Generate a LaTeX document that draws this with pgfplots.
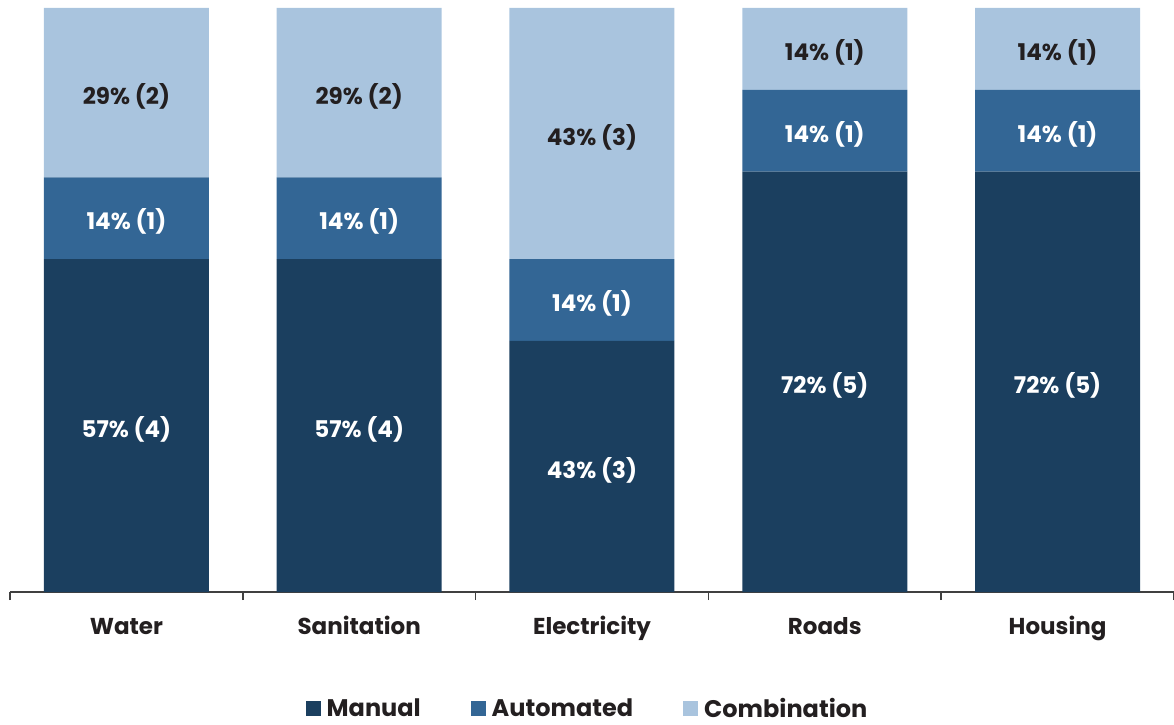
\documentclass[border=0pt]{standalone}
\usepackage{pgfplots}
\pgfplotsset{compat=1.18}
\usepackage{fontspec}
\setmainfont{Poppins}
\definecolor{cManual}{RGB}{27,63,95}
\definecolor{cAuto}{RGB}{51,102,149}
\definecolor{cComb}{RGB}{169,196,222}
\definecolor{cText}{RGB}{35,31,32}
\tikzset{lab/.style={font=\bfseries\fontsize{11.5}{13}\selectfont, anchor=center, yshift=-1.8pt}}
\begin{document}
\begin{tikzpicture}
\useasboundingbox (-5pt,-66pt) rectangle (582pt,296pt);
\begin{axis}[
  at={(0,0)}, anchor=south west,
  scale only axis,
  width=582pt, height=292pt,
  ybar stacked,
  bar width=82.5pt,
  xmin=-0.5, xmax=4.5, ymin=0, ymax=100,
  enlargelimits=false,
  axis y line=none,
  axis x line*=bottom,
  x axis line style={draw=black!75, line width=0.75pt, -},
  xtick={0,1,2,3,4},
  xticklabels={Water,Sanitation,Electricity,Roads,Housing},
  major x tick style={draw=none},
  minor xtick={-0.5,0.5,1.5,2.5,3.5,4.5},
  minor x tick style={draw=black!75, line width=0.75pt},
  minor tick length=4pt,
  tick align=outside,
  xticklabel style={font=\bfseries\fontsize{11.5}{13}\selectfont, text=cText,
    text height=9pt, text depth=3pt, yshift=-4.5pt},
  legend style={at={(0.497,-0.2003)}, anchor=center, draw=none, legend columns=-1,
    font=\bfseries\fontsize{12}{14}\selectfont, text=cText,
    /tikz/every even column/.append style={column sep=23pt},
    /tikz/every odd column/.append style={column sep=1pt}},
  legend image code/.code={\fill[#1] (0pt,-3.75pt) rectangle (7.5pt,3.75pt);},
  clip=false,
  after end axis/.code={
    \node[lab, text=white] at (axis cs:0,28.5) {57\% (4)};
    \node[lab, text=white] at (axis cs:1,28.5) {57\% (4)};
    \node[lab, text=white] at (axis cs:2,21.5) {43\% (3)};
    \node[lab, text=white] at (axis cs:3,36) {72\% (5)};
    \node[lab, text=white] at (axis cs:4,36) {72\% (5)};
    \node[lab, text=white] at (axis cs:0,64) {14\% (1)};
    \node[lab, text=white] at (axis cs:1,64) {14\% (1)};
    \node[lab, text=white] at (axis cs:2,50) {14\% (1)};
    \node[lab, text=white] at (axis cs:3,79) {14\% (1)};
    \node[lab, text=white] at (axis cs:4,79) {14\% (1)};
    \node[lab, text=cText] at (axis cs:0,85.5) {29\% (2)};
    \node[lab, text=cText] at (axis cs:1,85.5) {29\% (2)};
    \node[lab, text=cText] at (axis cs:2,78.5) {43\% (3)};
    \node[lab, text=cText] at (axis cs:3,93) {14\% (1)};
    \node[lab, text=cText] at (axis cs:4,93) {14\% (1)};
  },
]
\addplot[fill=cManual, draw=none] coordinates {(0,57) (1,57) (2,43) (3,72) (4,72)};
\addplot[fill=cAuto, draw=none] coordinates {(0,14) (1,14) (2,14) (3,14) (4,14)};
\addplot[fill=cComb, draw=none] coordinates {(0,29) (1,29) (2,43) (3,14) (4,14)};
\legend{Manual,Automated,Combination}
\end{axis}
\end{tikzpicture}
\end{document}
